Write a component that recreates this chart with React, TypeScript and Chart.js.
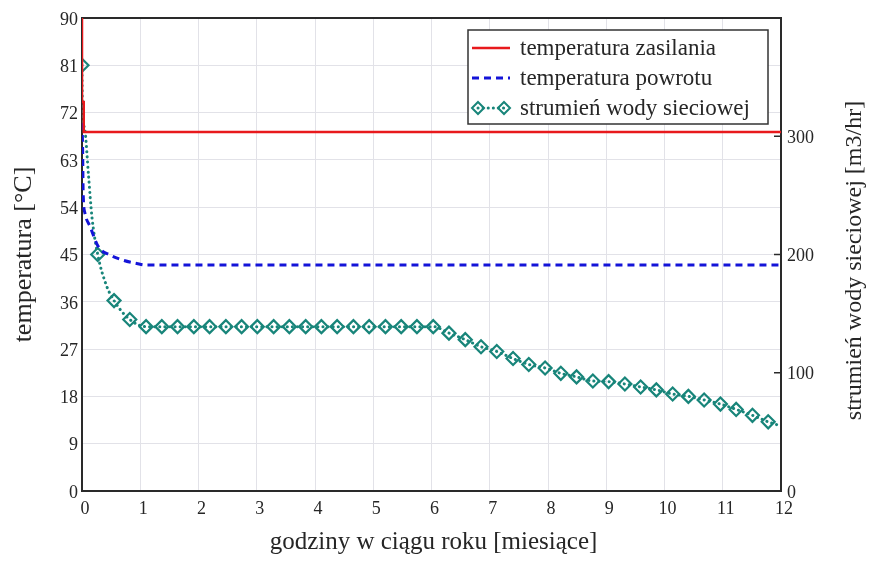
import React, { useEffect, useRef } from "react";
import { Chart, registerables } from "chart.js";

Chart.register(...registerables);

// ---- data ----
const tempTicks = [0, 9, 18, 27, 36, 45, 54, 63, 72, 81, 90];
const flowTicks = [0, 100, 200, 300];
const monthTicks = [0, 1, 2, 3, 4, 5, 6, 7, 8, 9, 10, 11, 12];

// temperatura zasilania [°C]
const supplyX = [0, 0, 0.03, 0.03, 12];
const supplyY = [90, 74, 74, 68.3, 68.3];

// temperatura powrotu [°C]
const returnX = [0, 0.01, 0.02, 0.05, 0.14, 0.28, 0.48, 0.71, 0.94, 1.1, 12];
const returnY = [70, 65.5, 56.7, 52.9, 50.3, 46.5, 44.9, 43.9, 43.3, 43, 43];

// strumień wody sieciowej [m3/hr] — marked points
const flowMarkX = [
  0, 0.27, 0.55, 0.82, 1.1, 1.37, 1.64, 1.92, 2.19, 2.47, 2.74, 3.01, 3.29, 3.56, 3.84,
  4.11, 4.38, 4.66, 4.93, 5.21, 5.48, 5.75, 6.03, 6.3, 6.58, 6.85, 7.12, 7.4, 7.67,
  7.95, 8.22, 8.49, 8.77, 9.04, 9.32, 9.59, 9.86, 10.14, 10.41, 10.68, 10.96, 11.23,
  11.51, 11.78,
];
const flowMarkY = [
  360, 200, 161, 145, 139, 139, 139, 139, 139, 139, 139, 139, 139, 139, 139,
  139, 139, 139, 139, 139, 139, 139, 139, 133.5, 128, 122, 118, 112, 107,
  104, 99.5, 96.5, 93, 92.5, 90.5, 88, 85.5, 82, 80, 77, 73.5, 69,
  64, 58.5,
];
// extra points of the dotted curve (no markers)
const flowCurveX = [0.005, 0.05, 0.11, 0.17, 0.41, 12];
const flowCurveY = [331, 305, 268, 232, 175, 55];

const legendLabels = [
  "temperatura zasilania",
  "temperatura powrotu",
  "strumień wody sieciowej",
];
const xTitle = "godziny w ciągu roku [miesiące]";
const yLeftTitle = "temperatura [°C]";
const yRightTitle = "strumień wody sieciowej [m3/hr]";

// ---- styles ----
const RED = "#e8191c";
const BLUE = "#1414d8";
const TEAL = "#18857a";
const SERIF = "'Liberation Serif', 'Times New Roman', serif";
const TEXT = "#262626";

const zip = (xs: number[], ys: number[]) => xs.map((x, i) => ({ x, y: ys[i] }));

const drawDiamond = (ctx: CanvasRenderingContext2D, x: number, y: number, r: number) => {
  ctx.beginPath();
  ctx.moveTo(x, y - r);
  ctx.lineTo(x + r, y);
  ctx.lineTo(x, y + r);
  ctx.lineTo(x - r, y);
  ctx.closePath();
  ctx.stroke();
};

const framePlugin = {
  id: "frame",
  beforeDatasetsDraw(chart: any) {
    const { ctx, chartArea: a } = chart;
    ctx.save();
    ctx.strokeStyle = "#2a2a2a";
    ctx.lineWidth = 2;
    ctx.strokeRect(a.left, a.top, a.right - a.left, a.bottom - a.top);
    const yR = chart.scales.yR;
    ctx.lineWidth = 1.5;
    flowTicks.forEach((v) => {
      const y = yR.getPixelForValue(v);
      ctx.beginPath();
      ctx.moveTo(a.right - 7, y);
      ctx.lineTo(a.right, y);
      ctx.stroke();
    });
    ctx.restore();
  },
  afterDraw(chart: any) {
    const { ctx, chartArea: a } = chart;
    ctx.save();
    // axis titles
    ctx.fillStyle = TEXT;
    ctx.textAlign = "center";
    ctx.textBaseline = "alphabetic";
    ctx.font = `25px ${SERIF}`;
    ctx.fillText(xTitle, (a.left + a.right) / 2 + 2, 549);

    ctx.save();
    ctx.translate(31, (a.top + a.bottom) / 2);
    ctx.rotate(-Math.PI / 2);
    ctx.font = `26px ${SERIF}`;
    ctx.fillText(yLeftTitle, 0, 0);
    ctx.restore();

    ctx.save();
    ctx.translate(861, (a.top + a.bottom) / 2 + 6);
    ctx.rotate(-Math.PI / 2);
    ctx.font = `24px ${SERIF}`;
    ctx.fillText(yRightTitle, 0, 0);
    ctx.restore();

    // legend
    const bx = a.right - 313;
    const by = a.top + 12;
    const bw = 300;
    const bh = 94;
    ctx.fillStyle = "#ffffff";
    ctx.fillRect(bx, by, bw, bh);
    ctx.strokeStyle = "#333333";
    ctx.lineWidth = 1.5;
    ctx.strokeRect(bx, by, bw, bh);
    const rows = [by + 18, by + 48, by + 78];
    const sx0 = bx + 4;
    const sx1 = bx + 42;
    // red
    ctx.strokeStyle = RED;
    ctx.lineWidth = 2.5;
    ctx.beginPath();
    ctx.moveTo(sx0, rows[0]);
    ctx.lineTo(sx1, rows[0]);
    ctx.stroke();
    // blue
    ctx.strokeStyle = BLUE;
    ctx.lineWidth = 3;
    ctx.setLineDash([7, 5]);
    ctx.beginPath();
    ctx.moveTo(sx0, rows[1]);
    ctx.lineTo(sx1, rows[1]);
    ctx.stroke();
    // teal
    ctx.strokeStyle = TEAL;
    ctx.lineCap = "round";
    ctx.setLineDash([0.1, 5]);
    ctx.beginPath();
    ctx.moveTo(sx0 + 6, rows[2]);
    ctx.lineTo(sx1 - 6, rows[2]);
    ctx.stroke();
    ctx.setLineDash([]);
    ctx.lineWidth = 2;
    drawDiamond(ctx, sx0 + 6, rows[2], 6);
    drawDiamond(ctx, sx1 - 6, rows[2], 6);
    // texts
    ctx.fillStyle = TEXT;
    ctx.textAlign = "left";
    ctx.textBaseline = "middle";
    ctx.font = `23px ${SERIF}`;
    legendLabels.forEach((t, i) => ctx.fillText(t, bx + 52, rows[i] + 1));
    ctx.restore();
  },
};

export default function App() {
  const ref = useRef<HTMLCanvasElement | null>(null);

  useEffect(() => {
    document.body.style.margin = "0";
    const canvas = ref.current;
    if (!canvas) return;

    const curve = zip(flowMarkX, flowMarkY)
      .concat(zip(flowCurveX, flowCurveY))
      .sort((p, q) => p.x - q.x);

    const tickFont = { family: SERIF, size: 18 };

    const chart = new Chart(canvas, {
      type: "scatter",
      data: {
        datasets: [
          {
            label: legendLabels[0],
            data: zip(supplyX, supplyY),
            showLine: true,
            borderColor: RED,
            borderWidth: 2.5,
            pointRadius: 0,
            yAxisID: "y",
          },
          {
            label: legendLabels[1],
            data: zip(returnX, returnY),
            showLine: true,
            borderColor: BLUE,
            borderWidth: 3,
            borderDash: [7, 5],
            pointRadius: 0,
            cubicInterpolationMode: "monotone",
            yAxisID: "y",
          },
          {
            label: legendLabels[2] + " (linia)",
            data: curve,
            showLine: true,
            borderColor: TEAL,
            borderWidth: 3,
            borderDash: [0.1, 5],
            borderCapStyle: "round",
            pointRadius: 0,
            cubicInterpolationMode: "monotone",
            yAxisID: "yR",
          },
          {
            label: legendLabels[2],
            data: zip(flowMarkX, flowMarkY),
            showLine: false,
            borderColor: TEAL,
            backgroundColor: "rgba(0,0,0,0)",
            pointStyle: "rectRot",
            pointRadius: 6.5,
            pointBorderWidth: 2.2,
            yAxisID: "yR",
          },
        ],
      },
      options: {
        animation: false,
        responsive: false,
        layout: { padding: { top: 18, left: 0, right: 0, bottom: 0 } },
        plugins: { legend: { display: false }, tooltip: { enabled: false } },
        scales: {
          x: {
            type: "linear",
            min: 0,
            max: 12,
            afterBuildTicks: (s: any) => {
              s.ticks = monthTicks.map((v) => ({ value: v }));
            },
            afterFit: (s: any) => {
              s.height = 76;
            },
            grid: { color: "#e2e2e8", lineWidth: 1, drawTicks: false },
            border: { display: false },
            ticks: { font: tickFont, color: TEXT, padding: 7, labelOffset: 3, maxRotation: 0 },
          },
          y: {
            position: "left",
            min: 0,
            max: 90,
            afterBuildTicks: (s: any) => {
              s.ticks = tempTicks.map((v) => ({ value: v }));
            },
            afterFit: (s: any) => {
              s.width = 82;
            },
            grid: { color: "#e2e2e8", lineWidth: 1, drawTicks: false },
            border: { display: false },
            ticks: { font: tickFont, color: TEXT, padding: 4, labelOffset: 2 },
          },
          yR: {
            position: "right",
            min: 0,
            max: 400,
            afterBuildTicks: (s: any) => {
              s.ticks = flowTicks.map((v) => ({ value: v }));
            },
            afterFit: (s: any) => {
              s.width = 90;
            },
            grid: { display: false, drawTicks: false },
            border: { display: false },
            ticks: { font: tickFont, color: TEXT, padding: 6, labelOffset: 2 },
          },
        },
      },
      plugins: [framePlugin],
    } as any);

    return () => chart.destroy();
  }, []);

  return (
    <div style={{ width: 871, height: 567 }}>
      <canvas ref={ref} width={871} height={567} />
    </div>
  );
}
